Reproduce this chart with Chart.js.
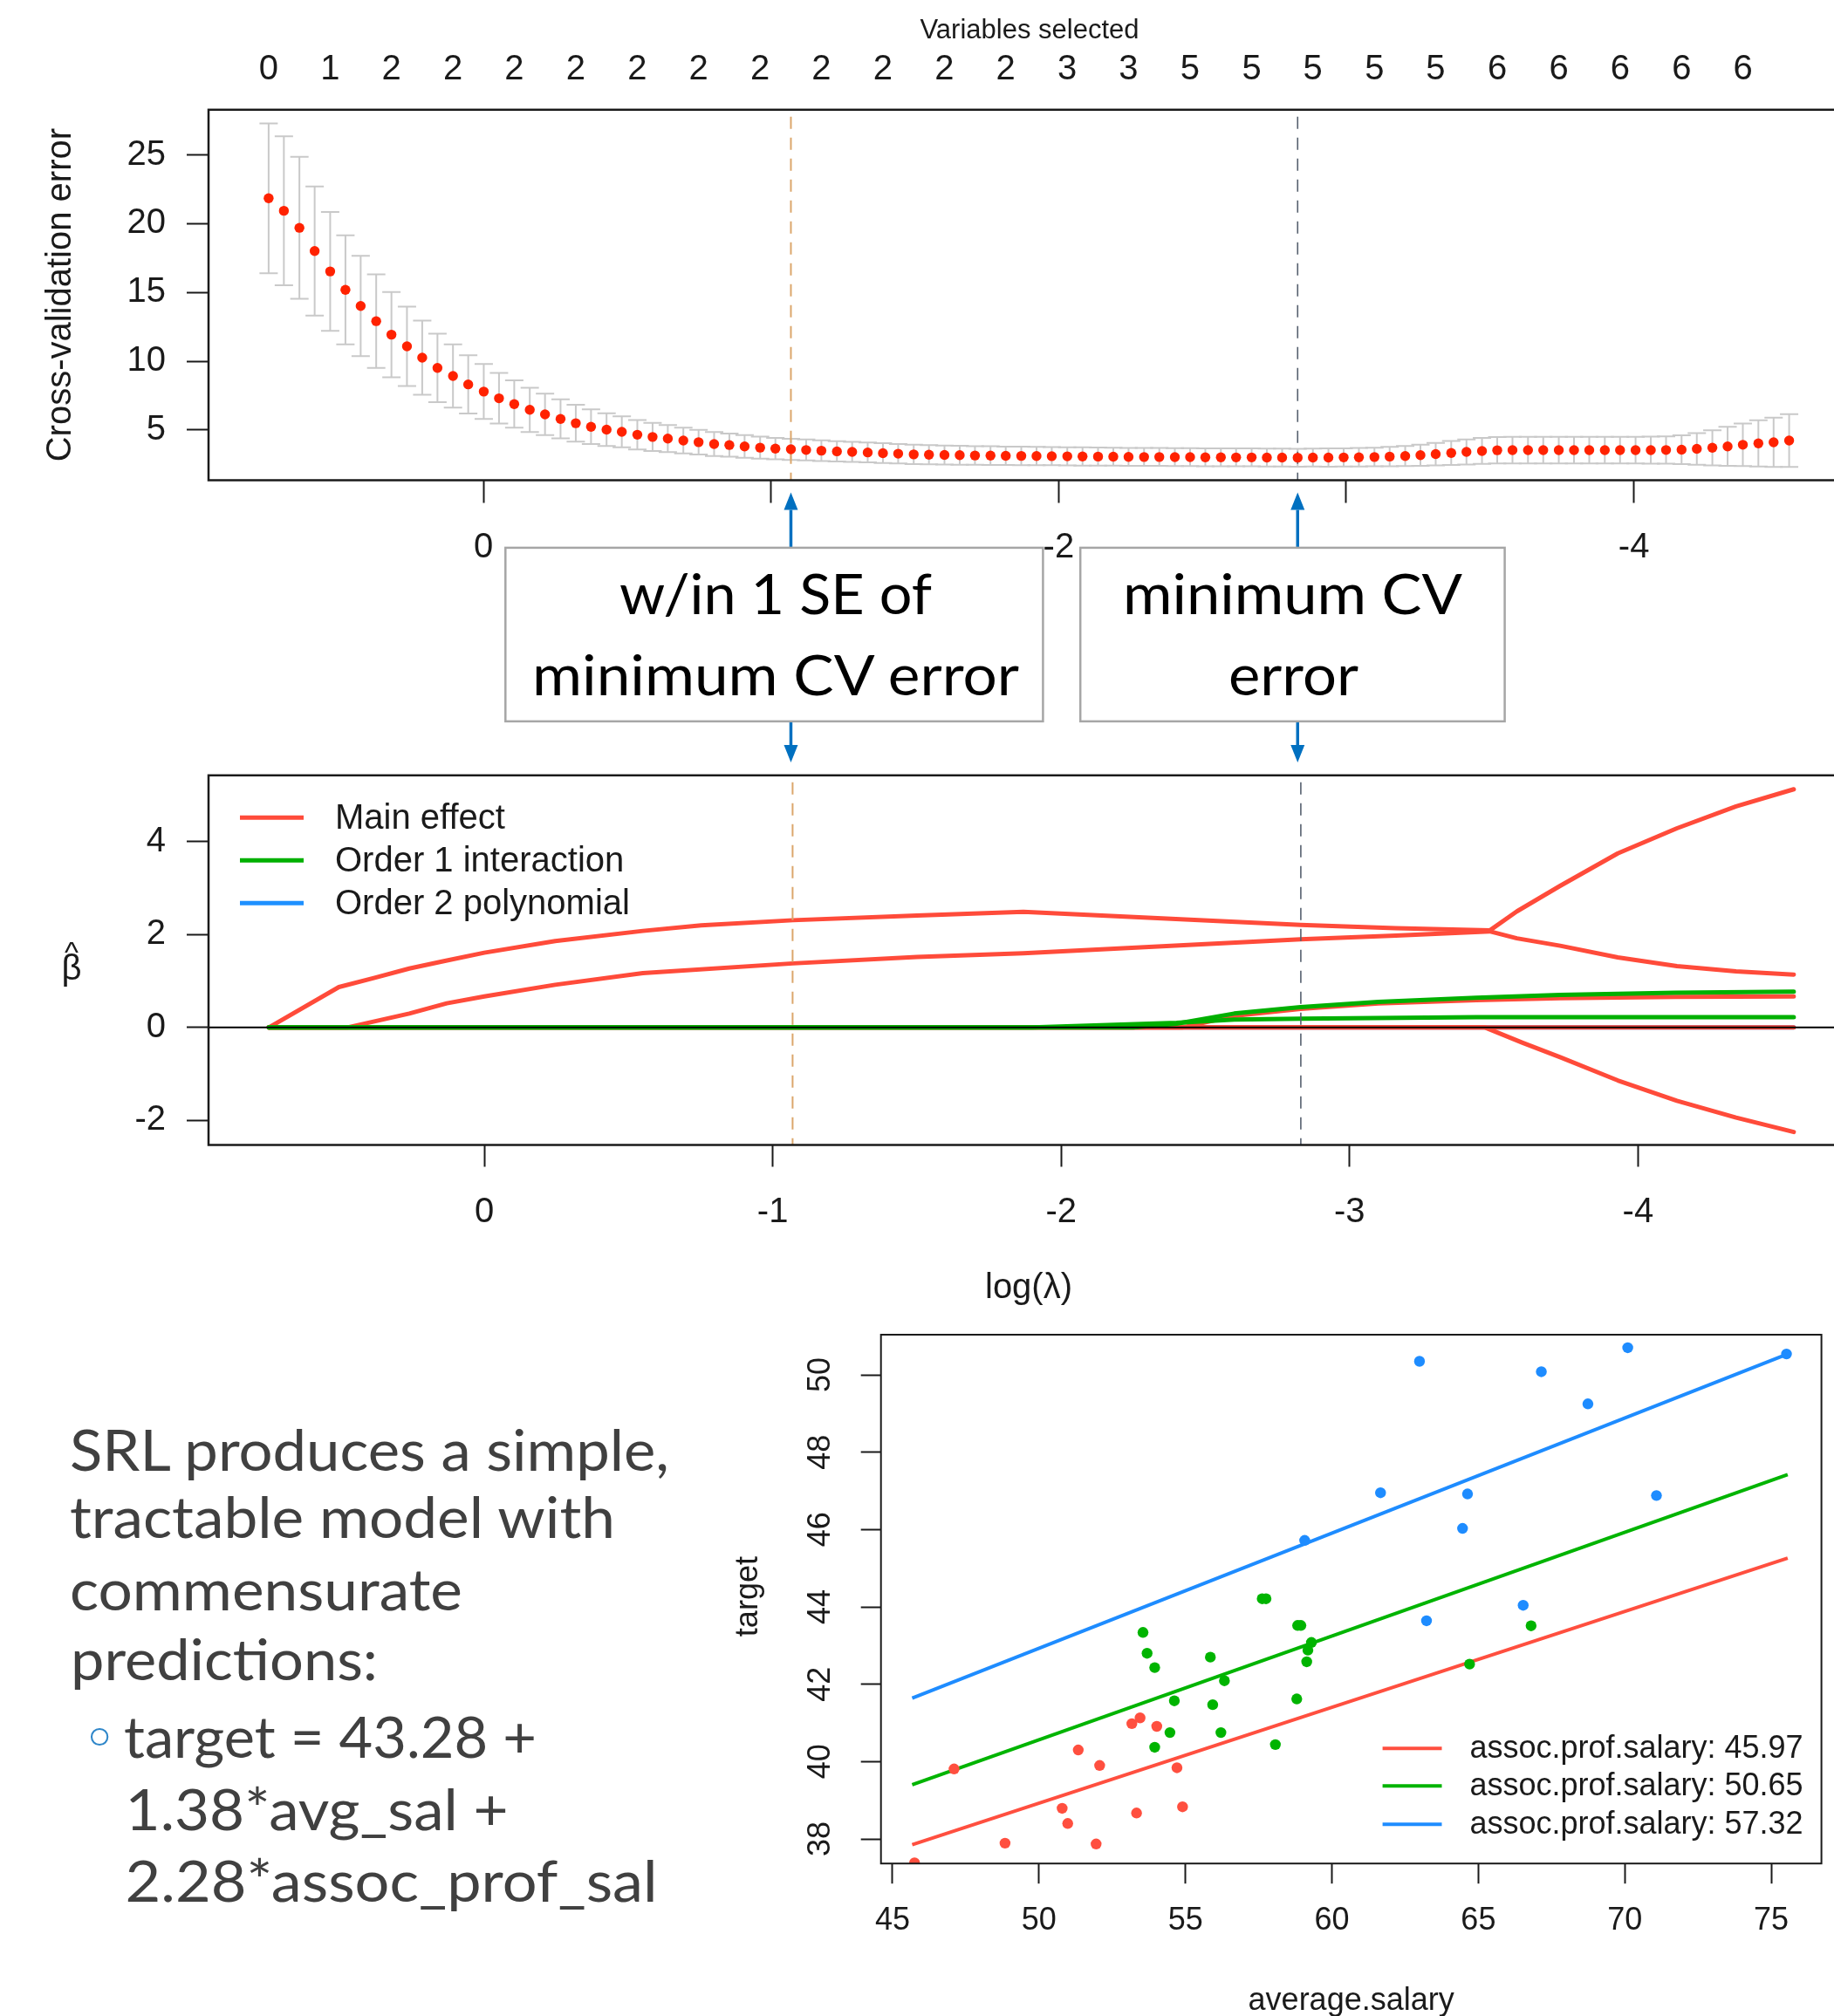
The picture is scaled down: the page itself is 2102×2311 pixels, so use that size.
<!DOCTYPE html>
<html>
<head>
<meta charset="utf-8">
<script src="https://cdn.jsdelivr.net/npm/chart.js@4.4.1/dist/chart.umd.min.js"></script>
<style>
html,body{margin:0;padding:0;background:#fff;}
body{width:2102px;height:2311px;overflow:hidden;position:relative;}
canvas{position:absolute;}
#overlay{position:absolute;left:0;top:0;pointer-events:none;}
</style>
</head>
<body>
<canvas id="cvChart" width="2200" height="660" style="left:0;top:0;width:2200px;height:660px"></canvas>
<canvas id="pathChart" width="2200" height="650" style="left:0;top:850px;width:2200px;height:650px"></canvas>
<canvas id="fitChart" width="1302" height="831" style="left:800px;top:1480px;width:1302px;height:831px"></canvas>
<svg id="overlay" width="2102" height="2311" xmlns="http://www.w3.org/2000/svg">
  <g id="arrows"></g>
  <rect x="579.3" y="627.9" width="616.1" height="199" fill="#fff" stroke="#a6a6a6" stroke-width="2.5"/>
  <rect x="1238.2" y="627.9" width="486.4" height="199" fill="#fff" stroke="#a6a6a6" stroke-width="2.5"/>
  <g font-family="Lato, 'Open Sans', sans-serif" font-size="64" fill="#000" text-anchor="middle">
    <text x="889" y="704" textLength="358" lengthAdjust="spacingAndGlyphs">w/in 1 SE of</text>
    <text x="889" y="797" textLength="558" lengthAdjust="spacingAndGlyphs">minimum CV error</text>
    <text x="1481.5" y="704" textLength="389" lengthAdjust="spacingAndGlyphs">minimum CV</text>
    <text x="1482.5" y="797" textLength="149" lengthAdjust="spacingAndGlyphs">error</text>
  </g>
  <g font-family="Lato, 'Open Sans', sans-serif" font-size="66" fill="#404040">
    <text x="80" y="1686" textLength="687" lengthAdjust="spacingAndGlyphs">SRL produces a simple,</text>
    <text x="80" y="1763" textLength="625" lengthAdjust="spacingAndGlyphs">tractable model with</text>
    <text x="80" y="1846" textLength="450" lengthAdjust="spacingAndGlyphs">commensurate</text>
    <text x="81" y="1926" textLength="352" lengthAdjust="spacingAndGlyphs">predictions:</text>
    <text x="142" y="2015" textLength="473" lengthAdjust="spacingAndGlyphs">target = 43.28 +</text>
    <text x="143.6" y="2098" textLength="439" lengthAdjust="spacingAndGlyphs">1.38*avg_sal +</text>
    <text x="143.6" y="2180" textLength="610" lengthAdjust="spacingAndGlyphs">2.28*assoc_prof_sal</text>
  </g>
  <text x="114" y="2017" font-family="'DejaVu Sans', sans-serif" font-size="70" fill="#2e86c9" text-anchor="middle">◦</text>
  <g font-family="'Liberation Sans', Arial, sans-serif" fill="#1a1a1a" text-anchor="middle">
    <text x="82" y="1103" font-size="34">^</text>
    <text x="82" y="1123" font-size="40">β</text>
  </g>
</svg>
<script>
// ================= DATA =================
// Panel 1: cross-validation curve (x = log(lambda))
const logLambda = [
  0.747, 0.694, 0.640, 0.587, 0.533, 0.480, 0.427, 0.373, 0.320, 0.266,
  0.213, 0.160, 0.106, 0.053, -0.001, -0.054, -0.107, -0.161, -0.214, -0.268,
  -0.321, -0.374, -0.428, -0.481, -0.535, -0.588, -0.641, -0.695, -0.748, -0.802,
  -0.855, -0.908, -0.962, -1.015, -1.069, -1.122, -1.175, -1.229, -1.282, -1.336,
  -1.389, -1.442, -1.496, -1.549, -1.603, -1.656, -1.709, -1.763, -1.816, -1.870,
  -1.923, -1.976, -2.030, -2.083, -2.137, -2.190, -2.243, -2.297, -2.350, -2.404,
  -2.457, -2.510, -2.564, -2.617, -2.671, -2.724, -2.777, -2.831, -2.884, -2.938,
  -2.991, -3.044, -3.098, -3.151, -3.205, -3.258, -3.311, -3.365, -3.418, -3.472,
  -3.525, -3.578, -3.632, -3.685, -3.739, -3.792, -3.845, -3.899, -3.952, -4.006,
  -4.059, -4.112, -4.166, -4.219, -4.273, -4.326, -4.379, -4.433, -4.486, -4.540
];
const cvMean = [
  21.85, 20.94, 19.70, 18.01, 16.53, 15.19, 14.02, 12.91, 11.93, 11.08,
  10.26, 9.51, 8.92, 8.31, 7.79, 7.30, 6.88, 6.46, 6.13, 5.80,
  5.49, 5.23, 5.02, 4.86, 4.65, 4.49, 4.37, 4.23, 4.11, 3.97,
  3.90, 3.80, 3.71, 3.64, 3.59, 3.54, 3.49, 3.44, 3.40, 3.36,
  3.31, 3.27, 3.22, 3.20, 3.18, 3.16, 3.14, 3.13, 3.12, 3.11,
  3.10, 3.09, 3.08, 3.07, 3.06, 3.05, 3.04, 3.03, 3.03, 3.02,
  3.02, 3.01, 3.01, 3.00, 3.00, 2.99, 2.99, 2.98, 2.99, 2.99,
  3.00, 3.01, 3.03, 3.06, 3.10, 3.16, 3.24, 3.32, 3.40, 3.47,
  3.52, 3.53, 3.53, 3.53, 3.53, 3.53, 3.53, 3.53, 3.53, 3.53,
  3.53, 3.54, 3.56, 3.62, 3.70, 3.80, 3.92, 4.02, 4.10, 4.23
];
const cvSE = [
  5.45, 5.41, 5.16, 4.70, 4.32, 3.97, 3.65, 3.40, 3.10, 2.88,
  2.70, 2.49, 2.30, 2.12, 2.00, 1.84, 1.72, 1.61, 1.51, 1.42,
  1.34, 1.26, 1.19, 1.13, 1.07, 1.02, 0.98, 0.94, 0.90, 0.87,
  0.84, 0.82, 0.80, 0.78, 0.77, 0.76, 0.75, 0.74, 0.73, 0.72,
  0.72, 0.71, 0.70, 0.70, 0.69, 0.69, 0.68, 0.68, 0.67, 0.67,
  0.67, 0.66, 0.66, 0.66, 0.66, 0.65, 0.65, 0.65, 0.65, 0.65,
  0.65, 0.65, 0.65, 0.65, 0.65, 0.65, 0.65, 0.65, 0.65, 0.66,
  0.66, 0.67, 0.68, 0.70, 0.73, 0.77, 0.82, 0.87, 0.91, 0.94,
  0.96, 0.97, 0.97, 0.97, 0.97, 0.97, 0.97, 0.97, 0.97, 0.97,
  0.98, 0.99, 1.05, 1.15, 1.28, 1.42, 1.55, 1.68, 1.80, 1.92
];
const varsSelected = [0,1,2,2,2,2,2,2,2,2,2,2,2,3,3,5,5,5,5,5,6,6,6,6,6];
const varsSelectedEvery = 4;           // one label per 4 lambda values
const lambda1se = -1.069;              // within 1 SE of minimum CV error
const lambdaMin = -2.831;              // minimum CV error
const cvYTicks = [5, 10, 15, 20, 25];
const lambdaTicks = [0, -1, -2, -3, -4];
const cvLambdaLabels = ['0', '', '-2', '', '-4'];
const lambdaLabels = ['0', '-1', '-2', '-3', '-4'];

// Panel 2: coefficient paths, [log(lambda), beta]
const mainEffectA = [[0.747,0],[0.504,0.87],[0.38,1.07],[0.26,1.27],[0.14,1.43],[0,1.61],[-0.246,1.86],[-0.55,2.08],[-0.752,2.2],[-1.07,2.31],[-1.5,2.41],[-1.869,2.49],[-2.35,2.35],[-2.83,2.21],[-3.16,2.14],[-3.486,2.09],[-3.58,2.5],[-3.73,3.05],[-3.93,3.75],[-4.135,4.29],[-4.34,4.76],[-4.54,5.13]];
const mainEffectB = [[0.747,0],[0.475,0],[0.26,0.30],[0.13,0.52],[0,0.67],[-0.246,0.92],[-0.55,1.17],[-1.07,1.38],[-1.5,1.52],[-1.869,1.6],[-2.35,1.75],[-2.83,1.9],[-3.16,1.98],[-3.486,2.07],[-3.58,1.92],[-3.73,1.76],[-3.93,1.51],[-4.135,1.32],[-4.34,1.21],[-4.54,1.14]];
const mainEffectC = [[0.747,0],[-3.47,0],[-3.6,-0.33],[-3.73,-0.64],[-3.93,-1.14],[-4.135,-1.58],[-4.34,-1.94],[-4.54,-2.25]];
const mainEffectD = [[0.747,0],[-2.42,0],[-2.6,0.25],[-2.83,0.4],[-3.1,0.52],[-3.44,0.59],[-3.73,0.63],[-4.13,0.66],[-4.54,0.67]];
const mainEffectZero = [[0.747,0],[-4.54,0]];
const interactionA = [[0.747,0],[-2.25,0],[-2.4,0.08],[-2.6,0.3],[-2.83,0.44],[-3.1,0.55],[-3.44,0.64],[-3.73,0.7],[-4.13,0.75],[-4.54,0.77]];
const interactionB = [[0.747,0],[-1.9,0],[-2.4,0.1],[-2.6,0.17],[-2.83,0.19],[-3.44,0.22],[-4.54,0.22]];
const polynomialZero = [[0.747,0],[-4.54,0]];
const pathYTicks = [-2, 0, 2, 4];
const pathLegend = ['Main effect', 'Order 1 interaction', 'Order 2 polynomial'];

// Panel 3: target vs average.salary
const avgSalRed   = [45.75, 47.10, 48.84, 50.79, 50.98, 51.34, 52.07, 51.95, 53.17, 53.45, 54.02, 53.33, 54.71, 54.90];
const targetRed   = [37.38, 39.81, 37.89, 38.79, 38.40, 40.30, 39.90, 37.87, 40.98, 41.13, 40.91, 38.67, 39.84, 38.83];
const avgSalGreen = [57.62, 57.75, 58.83, 58.94, 53.55, 53.69, 53.95, 55.85, 56.33, 59.30, 59.18, 59.14, 54.62, 55.93, 58.80, 54.47, 56.21, 53.95, 58.07, 66.80, 64.70];
const targetGreen = [44.21, 44.21, 43.52, 43.52, 43.34, 42.80, 42.43, 42.70, 42.09, 43.08, 42.88, 42.58, 41.57, 41.47, 41.62, 40.75, 40.75, 40.37, 40.44, 43.51, 42.52];
const avgSalBlue  = [62.99, 67.15, 70.10, 75.52, 68.74, 61.66, 64.63, 71.08, 64.46, 59.07, 66.53, 63.23];
const targetBlue  = [50.35, 50.08, 50.70, 50.54, 49.25, 46.95, 46.92, 46.88, 46.03, 45.72, 44.04, 43.64];
const fitAvgSal = [45.67, 75.56];
const fitRed   = [37.85, 45.26];
const fitGreen = [39.40, 47.42];
const fitBlue  = [41.64, 50.54];
const fitLegend = ['assoc.prof.salary: 45.97', 'assoc.prof.salary: 50.65', 'assoc.prof.salary: 57.32'];
const salTicks = [45, 50, 55, 60, 65, 70, 75];
const targetTicks = [38, 40, 42, 44, 46, 48, 50];

// ================= STYLE =================
const FONT = "'Liberation Sans', Arial, Helvetica, sans-serif";
const INK = '#1a1a1a';
const RED = '#ff4b3a', GREEN = '#00b000', BLUE = '#1e90ff';
const DOT_RED = '#ff2200';
const SC_RED = '#ff4f3f', SC_GREEN = '#00b400', SC_BLUE = '#1e8cff';

Chart.defaults.font.family = FONT;
Chart.defaults.color = INK;

function tickList(arr) { return a => { a.ticks = arr.map(v => ({ value: v })); }; }
function pairs(p) { return p.map(([x, y]) => ({ x, y })); }
function fixWidth(w) { return a => { a.width = w; a.paddingTop = 0; a.paddingBottom = 0; }; }
function fixHeight(h) { return a => { a.height = h; a.paddingLeft = 0; a.paddingRight = 0; }; }

function drawBox(ctx, ca, w) {
  ctx.save();
  ctx.strokeStyle = INK; ctx.lineWidth = w;
  ctx.strokeRect(ca.left, ca.top, ca.right - ca.left, ca.bottom - ca.top);
  ctx.restore();
}
function drawLambdaLines(ctx, ca, x) {
  ctx.save();
  ctx.beginPath(); ctx.rect(ca.left, ca.top, ca.right - ca.left, ca.bottom - ca.top); ctx.clip();
  ctx.setLineDash([14, 10]);
  ctx.lineWidth = 2; ctx.strokeStyle = '#dba66b';
  let px = x.getPixelForValue(lambda1se);
  ctx.beginPath(); ctx.moveTo(px, ca.top + 8); ctx.lineTo(px, ca.bottom); ctx.stroke();
  ctx.lineWidth = 1.6; ctx.strokeStyle = '#56606e';
  px = x.getPixelForValue(lambdaMin);
  ctx.beginPath(); ctx.moveTo(px, ca.top + 8); ctx.lineTo(px, ca.bottom); ctx.stroke();
  ctx.restore();
}

const LAMBDA_MAX = 0.956, LAMBDA_MIN = -4.976;

// ================= PANEL 1 =================
const cvPlugin = {
  id: 'cvDecor',
  beforeDatasetsDraw(chart) {
    const { ctx, chartArea: ca, scales: { x, y } } = chart;
    ctx.save();
    ctx.beginPath(); ctx.rect(ca.left, ca.top, ca.right - ca.left, ca.bottom - ca.top); ctx.clip();
    ctx.strokeStyle = '#c9c9c9'; ctx.lineWidth = 2;
    logLambda.forEach((l, i) => {
      const px = x.getPixelForValue(l);
      const yu = y.getPixelForValue(cvMean[i] + cvSE[i]);
      const yl = y.getPixelForValue(cvMean[i] - cvSE[i]);
      ctx.beginPath();
      ctx.moveTo(px, yu); ctx.lineTo(px, yl);
      ctx.moveTo(px - 10.5, yu); ctx.lineTo(px + 10.5, yu);
      ctx.moveTo(px - 10.5, yl); ctx.lineTo(px + 10.5, yl);
      ctx.stroke();
    });
    ctx.restore();
    drawLambdaLines(ctx, ca, x);
  },
  afterDraw(chart) {
    const { ctx, chartArea: ca } = chart;
    drawBox(ctx, ca, 2.5);
    ctx.save();
    ctx.fillStyle = INK;
    ctx.font = '31px ' + FONT;
    ctx.textAlign = 'center'; ctx.textBaseline = 'alphabetic';
    ctx.fillText('Variables selected', 1180, 44);
    ctx.font = '40px ' + FONT;
    ctx.translate(70, (ca.top + ca.bottom) / 2);
    ctx.rotate(-Math.PI / 2);
    ctx.textBaseline = 'middle';
    ctx.fillText('Cross-validation error', 0, 0);
    ctx.restore();
  }
};

const cvChart = new Chart(document.getElementById('cvChart'), {
  type: 'scatter',
  data: {
    datasets: [{
      data: logLambda.map((x, i) => ({ x, y: cvMean[i] })),
      pointRadius: 5.7, pointHoverRadius: 5.7,
      pointBackgroundColor: DOT_RED, pointBorderWidth: 0, borderWidth: 0
    }]
  },
  options: {
    responsive: false, animation: false, devicePixelRatio: 1,
    layout: { padding: 0 },
    plugins: { legend: { display: false }, tooltip: { enabled: false } },
    scales: {
      x: {
        type: 'linear', position: 'bottom', reverse: true, min: LAMBDA_MIN, max: LAMBDA_MAX,
        afterBuildTicks: tickList(lambdaTicks),
        afterFit: fixHeight(109.5),
        grid: { display: true, drawOnChartArea: false, drawTicks: true, tickLength: 26, tickWidth: 2, tickColor: INK },
        border: { display: false },
        ticks: { padding: 27.5, font: { size: 40 }, color: INK, autoSkip: false, maxRotation: 0, callback: (v, i) => cvLambdaLabels[i] }
      },
      x2: {
        type: 'linear', position: 'top', reverse: true, min: LAMBDA_MIN, max: LAMBDA_MAX,
        afterBuildTicks: a => { a.ticks = varsSelected.map((n, k) => ({ value: logLambda[k * varsSelectedEvery] })); },
        afterFit: fixHeight(125.8),
        grid: { display: false, drawTicks: false },
        border: { display: false },
        ticks: { padding: 21.8, font: { size: 40 }, color: INK, autoSkip: false, maxRotation: 0, callback: (v, i) => String(varsSelected[i]) }
      },
      y: {
        type: 'linear', position: 'left', min: 1.34, max: 28.29,
        afterBuildTicks: tickList(cvYTicks),
        afterFit: fixWidth(239),
        grid: { display: true, drawOnChartArea: false, drawTicks: true, tickLength: 25, tickWidth: 2, tickColor: INK },
        border: { display: false },
        ticks: { padding: 24, font: { size: 40 }, color: INK }
      }
    }
  },
  plugins: [cvPlugin]
});

// ================= PANEL 2 =================
const pathPlugin = {
  id: 'pathDecor',
  afterDatasetsDraw(chart) {
    const { ctx, chartArea: ca, scales: { x, y } } = chart;
    ctx.save();
    const y0 = y.getPixelForValue(0);
    ctx.strokeStyle = '#000'; ctx.lineWidth = 2;
    ctx.beginPath(); ctx.moveTo(ca.left, y0); ctx.lineTo(ca.right, y0); ctx.stroke();
    ctx.restore();
    drawLambdaLines(ctx, ca, x);
    drawBox(ctx, ca, 2.5);
    ctx.save();
    const cols = [RED, GREEN, BLUE];
    ctx.font = '40px ' + FONT; ctx.fillStyle = INK;
    ctx.textAlign = 'left'; ctx.textBaseline = 'middle';
    pathLegend.forEach((lab, k) => {
      const ly = ca.top + 48.5 + 49 * k;
      ctx.strokeStyle = cols[k]; ctx.lineWidth = 5;
      ctx.beginPath(); ctx.moveTo(ca.left + 36, ly); ctx.lineTo(ca.left + 109, ly); ctx.stroke();
      ctx.fillText(lab, ca.left + 145, ly + 2);
    });
    ctx.restore();
  },
  afterDraw(chart) {
    const { ctx } = chart;
    ctx.save();
    ctx.font = '40px ' + FONT; ctx.fillStyle = INK;
    ctx.textAlign = 'center'; ctx.textBaseline = 'middle';
    ctx.fillText('log(\u03BB)', 1179, 627);
    ctx.restore();
  }
};

const lineDs = (pts, color, order) => ({
  data: pairs(pts), borderColor: color, backgroundColor: color,
  borderWidth: 5, pointRadius: 0, tension: 0, order,
  borderCapStyle: 'round', borderJoinStyle: 'round'
});

new Chart(document.getElementById('pathChart'), {
  type: 'line',
  data: {
    datasets: [
      lineDs(interactionA, GREEN, 1),
      lineDs(interactionB, GREEN, 1),
      lineDs(mainEffectA, RED, 2),
      lineDs(mainEffectB, RED, 2),
      lineDs(mainEffectC, RED, 2),
      lineDs(mainEffectD, RED, 2),
      lineDs(mainEffectZero, RED, 2),
      lineDs(polynomialZero, BLUE, 3)
    ]
  },
  options: {
    responsive: false, animation: false, devicePixelRatio: 1,
    layout: { padding: { top: 38.8 } },
    plugins: { legend: { display: false }, tooltip: { enabled: false } },
    scales: {
      x: {
        type: 'linear', position: 'bottom', reverse: true, min: LAMBDA_MIN, max: LAMBDA_MAX,
        afterBuildTicks: tickList(lambdaTicks),
        afterFit: fixHeight(187.5),
        grid: { display: true, drawOnChartArea: false, drawTicks: true, tickLength: 25, tickWidth: 2, tickColor: INK },
        border: { display: false },
        ticks: { padding: 28, font: { size: 40 }, color: INK, autoSkip: false, maxRotation: 0, callback: (v, i) => lambdaLabels[i] }
      },
      y: {
        type: 'linear', position: 'left', min: -2.53, max: 5.43,
        afterBuildTicks: tickList(pathYTicks),
        afterFit: fixWidth(239),
        grid: { display: true, drawOnChartArea: false, drawTicks: true, tickLength: 25, tickWidth: 2, tickColor: INK },
        border: { display: false },
        ticks: { padding: 24, font: { size: 40 }, color: INK }
      }
    }
  },
  plugins: [pathPlugin]
});

// ================= PANEL 3 =================
const fitPlugin = {
  id: 'fitDecor',
  afterDraw(chart) {
    const { ctx, chartArea: ca, scales: { y } } = chart;
    drawBox(ctx, ca, 2);
    ctx.save();
    ctx.fillStyle = INK; ctx.font = '36px ' + FONT;
    ctx.textAlign = 'center'; ctx.textBaseline = 'middle';
    targetTicks.forEach(t => {
      ctx.save();
      ctx.translate(ca.left - 68.7, y.getPixelForValue(t));
      ctx.rotate(-Math.PI / 2);
      ctx.fillText(String(t), 0, 0);
      ctx.restore();
    });
    ctx.save();
    ctx.translate(ca.left - 151.7, (ca.top + ca.bottom) / 2 - 3);
    ctx.rotate(-Math.PI / 2);
    ctx.fillText('target', 0, 0);
    ctx.restore();
    ctx.fillText('average.salary', (ca.left + ca.right) / 2, ca.bottom + 157.8);
    const cols = [SC_RED, SC_GREEN, SC_BLUE];
    ctx.textAlign = 'left';
    fitLegend.forEach((lab, k) => {
      const ly = ca.top + [474.3, 517.2, 561.2][k];
      ctx.strokeStyle = cols[k]; ctx.lineWidth = 4;
      ctx.beginPath(); ctx.moveTo(ca.left + 574.9, ly); ctx.lineTo(ca.left + 642.8, ly); ctx.stroke();
      ctx.fillText(lab, ca.left + 674.7, ly + 1);
    });
    ctx.restore();
  }
};

const ptsDs = (xs, ys, color) => ({
  data: xs.map((x, i) => ({ x, y: ys[i] })), showLine: false,
  pointRadius: 6.2, pointHoverRadius: 6.2, pointBackgroundColor: color, pointBorderWidth: 0, order: 0
});
const fitDs = (ys, color) => ({
  data: fitAvgSal.map((x, i) => ({ x, y: ys[i] })), showLine: true,
  borderColor: color, borderWidth: 4, pointRadius: 0, order: 1
});

new Chart(document.getElementById('fitChart'), {
  type: 'scatter',
  data: {
    datasets: [
      fitDs(fitRed, SC_RED), fitDs(fitGreen, SC_GREEN), fitDs(fitBlue, SC_BLUE),
      ptsDs(avgSalRed, targetRed, SC_RED),
      ptsDs(avgSalGreen, targetGreen, SC_GREEN),
      ptsDs(avgSalBlue, targetBlue, SC_BLUE)
    ]
  },
  options: {
    responsive: false, animation: false, devicePixelRatio: 1,
    layout: { padding: { top: 50, right: 14.4 } },
    plugins: { legend: { display: false }, tooltip: { enabled: false } },
    scales: {
      x: {
        type: 'linear', position: 'bottom', min: 44.604, max: 76.713,
        afterBuildTicks: tickList(salTicks),
        afterFit: fixHeight(174.8),
        grid: { display: true, drawOnChartArea: false, drawTicks: true, tickLength: 23, tickWidth: 2, tickColor: INK },
        border: { display: false },
        ticks: { padding: 21.2, font: { size: 36 }, color: INK, autoSkip: false, maxRotation: 0 }
      },
      y: {
        type: 'linear', position: 'left', min: 37.364, max: 51.038,
        afterBuildTicks: tickList(targetTicks),
        afterFit: fixWidth(209.7),
        grid: { display: true, drawOnChartArea: false, drawTicks: true, tickLength: 23, tickWidth: 2, tickColor: INK },
        border: { display: false },
        ticks: { display: false }
      }
    }
  },
  plugins: [fitPlugin]
});

// ================= ARROWS (positioned from the lambda scale) =================
(function () {
  const g = document.getElementById('arrows');
  const NS = 'http://www.w3.org/2000/svg';
  function arrow(x, yFrom, yTip) {
    const dir = yTip < yFrom ? -1 : 1;
    const base = yTip - dir * 20;
    const l = document.createElementNS(NS, 'line');
    l.setAttribute('x1', x); l.setAttribute('x2', x);
    l.setAttribute('y1', yFrom); l.setAttribute('y2', base);
    l.setAttribute('stroke', '#0070c0'); l.setAttribute('stroke-width', '3.5');
    g.appendChild(l);
    const p = document.createElementNS(NS, 'polygon');
    p.setAttribute('points', `${x},${yTip} ${x - 8},${base} ${x + 8},${base}`);
    p.setAttribute('fill', '#0070c0');
    g.appendChild(p);
  }
  [lambda1se, lambdaMin].forEach(l => {
    const px = cvChart.scales.x.getPixelForValue(l);
    arrow(px, 628, 564.5);
    arrow(px, 827, 874);
  });
})();
</script>
</body>
</html>
